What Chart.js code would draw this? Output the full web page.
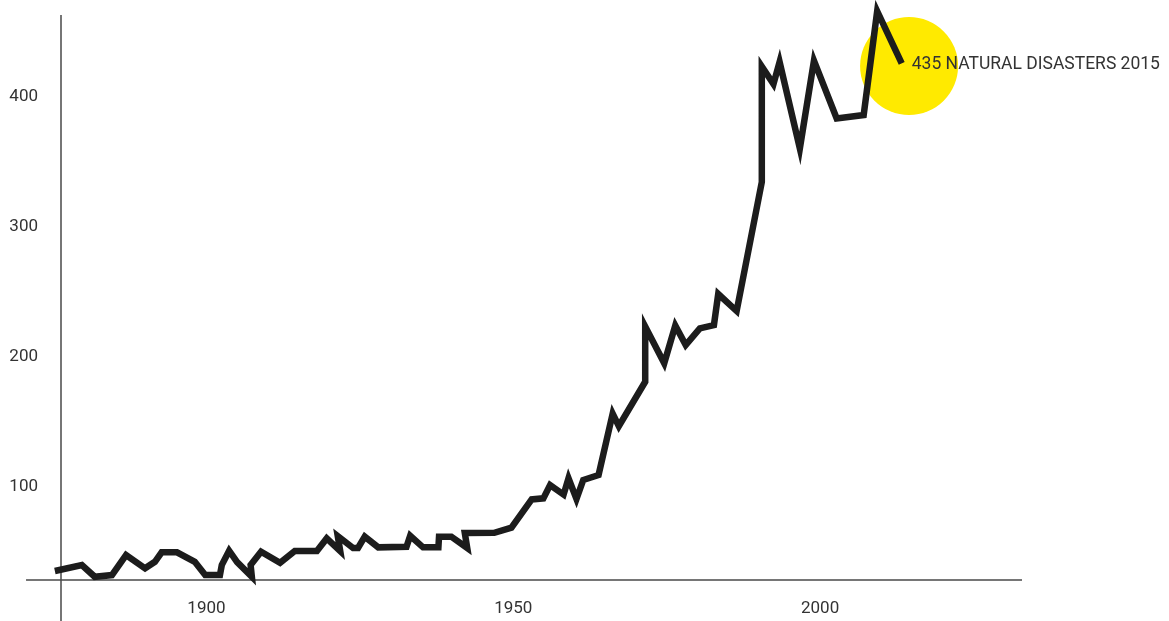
<!DOCTYPE html>
<html>
<head>
<meta charset="utf-8">
<script src="https://cdn.jsdelivr.net/npm/chart.js@4.4.1/dist/chart.umd.min.js"></script>
<style>
  html, body { margin: 0; padding: 0; background: #fff; }
  #wrap { width: 1169px; height: 621px; position: relative; }
</style>
</head>
<body>
<div id="wrap"><canvas id="disasters"></canvas></div>
<script>
// values
const years = [1875.3, 1879.7, 1881.8, 1884.6, 1886.9, 1890.0, 1891.6, 1892.7, 1895.2, 1898.1,
  1899.8, 1902.2, 1902.5, 1903.7, 1905.0, 1907.4, 1907.2, 1908.9, 1912.0, 1914.4,
  1918.0, 1919.6, 1921.8, 1921.4, 1923.9, 1924.7, 1925.8, 1928.0, 1932.6, 1933.2,
  1935.3, 1937.8, 1937.9, 1939.9, 1942.5, 1942.1, 1946.9, 1949.7, 1953.0, 1954.9,
  1956.0, 1958.2, 1959.0, 1960.3, 1961.4, 1963.9, 1966.2, 1967.2, 1971.5, 1971.5,
  1974.6, 1976.4, 1978.1, 1980.4, 1982.7, 1983.4, 1986.4, 1990.5, 1990.5, 1992.4,
  1993.4, 1996.7, 1999.0, 2002.7, 2007.1, 2009.3, 2013.3];
const counts = [35.4, 40.0, 31.0, 32.3, 47.7, 37.5, 42.5, 49.8, 49.8, 42.5,
  32.3, 32.3, 40.0, 51.0, 42.3, 31.0, 40.0, 50.2, 41.8, 50.8,
  50.8, 60.5, 50.8, 62.3, 53.1, 53.1, 61.8, 53.6, 54.1, 62.5,
  53.6, 53.6, 61.8, 61.8, 53.1, 64.6, 64.8, 68.8, 90.5, 91.3,
  101.5, 94.2, 106.7, 90.8, 105.4, 109.2, 156.5, 146.9, 181.0, 223.5,
  195.2, 224.2, 209.2, 222.1, 224.6, 248.5, 235.4, 334.6, 423.5, 410.0,
  427.0, 360.5, 428.0, 383.6, 386.2, 466.0, 425.9];

const highlightYear = [2014.5];
const highlightCount = [423.8];
const calloutText = "435 NATURAL DISASTERS 2015";

const xTicks = [1900, 1950, 2000];
const yTicks = [100, 200, 300, 400];

const xRange = [1876.3, 2032.9];
const yRange = [28.5, 463.1];
const axisStartYear = 1870.6;

const axisLines = {
  id: "axisLines",
  beforeDatasetsDraw(chart) {
    const { ctx, chartArea, scales } = chart;
    const start = scales.x.getPixelForValue(axisStartYear);
    ctx.save();
    ctx.strokeStyle = "#4a4a4a";
    ctx.lineWidth = 1.5;
    ctx.beginPath();
    ctx.moveTo(start, chartArea.bottom);
    ctx.lineTo(chartArea.right, chartArea.bottom);
    ctx.moveTo(chartArea.left, chartArea.top);
    ctx.lineTo(chartArea.left, chart.height);
    ctx.stroke();
    ctx.restore();
  },
};

const callout = {
  id: "callout",
  afterDatasetsDraw(chart) {
    const pts = chart.getDatasetMeta(1).data;
    const last = pts[pts.length - 1];
    const ctx = chart.ctx;
    ctx.save();
    ctx.font = "17.5px Roboto";
    ctx.fillStyle = "#333";
    ctx.textAlign = "left";
    ctx.textBaseline = "middle";
    ctx.fillText(calloutText, last.x + 10, last.y + 1);
    ctx.restore();
  },
};

const tickFont = { family: "Roboto", size: 17 };

new Chart(document.getElementById("disasters"), {
  type: "line",
  data: {
    datasets: [
      {
        data: highlightYear.map((y, i) => ({ x: y, y: highlightCount[i] })),
        showLine: false,
        pointRadius: 49,
        pointBackgroundColor: "#ffea00",
        pointBorderWidth: 0,
        order: 2,
        clip: false,
      },
      {
        data: years.map((y, i) => ({ x: y, y: counts[i] })),
        borderColor: "#1c1c1c",
        borderWidth: 6.5,
        borderJoinStyle: "miter",
        borderCapStyle: "butt",
        pointRadius: 0,
        tension: 0,
        fill: false,
        order: 1,
        clip: false,
      },
    ],
  },
  options: {
    responsive: true,
    maintainAspectRatio: false,
    animation: false,
    layout: { autoPadding: false, padding: { top: 15, right: 147, left: 0, bottom: 0 } },
    plugins: {
      legend: { display: false },
      tooltip: { enabled: false },
    },
    scales: {
      x: {
        type: "linear",
        min: xRange[0],
        max: xRange[1],
        grid: { display: false, drawTicks: false },
        border: { display: false },
        afterBuildTicks: (scale) => {
          scale.ticks = xTicks.map((v) => ({ value: v }));
        },
        afterFit: (scale) => {
          scale.height = 41;
          scale.paddingLeft = 0;
          scale.paddingRight = 0;
        },
        ticks: {
          font: tickFont,
          color: "#333",
          padding: 19,
          maxRotation: 0,
          callback: (v) => String(v),
        },
      },
      y: {
        type: "linear",
        min: yRange[0],
        max: yRange[1],
        grid: { display: false, drawTicks: false },
        border: { display: false },
        afterBuildTicks: (scale) => {
          scale.ticks = yTicks.map((v) => ({ value: v }));
        },
        afterFit: (scale) => {
          scale.width = 61;
          scale.paddingTop = 0;
          scale.paddingBottom = 0;
        },
        ticks: {
          font: tickFont,
          color: "#333",
          padding: 23,
          callback: (v) => String(v),
        },
      },
    },
  },
  plugins: [axisLines, callout],
});
</script>
</body>
</html>
